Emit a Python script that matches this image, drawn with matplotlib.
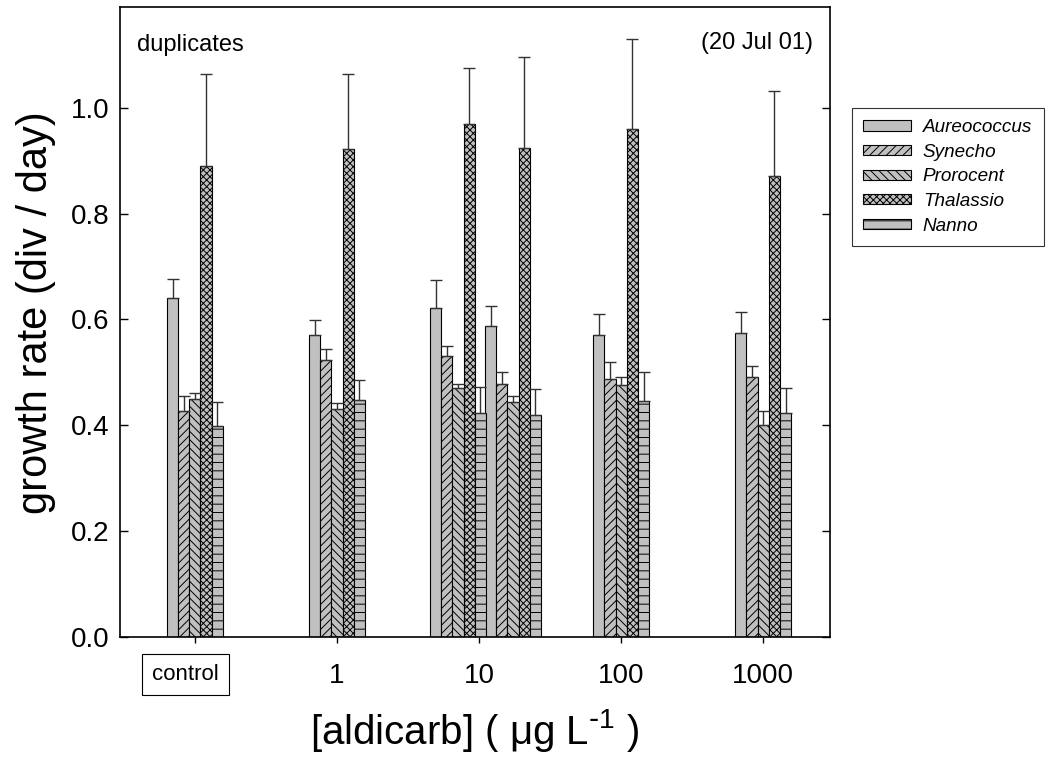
import numpy as np
import matplotlib
matplotlib.use("Agg")
import matplotlib.pyplot as plt

plt.rcParams['font.family'] = ['Liberation Sans', 'DejaVu Sans']
plt.rcParams['mathtext.default'] = 'regular'
plt.rcParams['hatch.linewidth'] = 0.7

# treatment sets: control, 1, 10 (two sets), 100, 1000
group_index = [0, 1, 2, 2, 3, 4]
group_shift = [0.0, 0.0, -0.148, 0.239, 0.0, 0.0]
tick_labels = ['', '1', '10', '100', '1000']

species = ['Aureococcus', 'Synecho', 'Prorocent', 'Thalassio', 'Nanno']
aureo = [0.641, 0.570, 0.621, 0.588, 0.570, 0.575]
aureo_err = [0.035, 0.029, 0.053, 0.037, 0.041, 0.039]
synecho = [0.428, 0.524, 0.531, 0.478, 0.487, 0.491]
synecho_err = [0.027, 0.020, 0.019, 0.022, 0.032, 0.021]
prorocent = [0.449, 0.432, 0.470, 0.445, 0.477, 0.400]
prorocent_err = [0.012, 0.010, 0.009, 0.010, 0.015, 0.027]
thalassio = [0.890, 0.921, 0.969, 0.924, 0.960, 0.870]
thalassio_err = [0.173, 0.142, 0.106, 0.171, 0.170, 0.162]
nanno = [0.399, 0.448, 0.424, 0.419, 0.446, 0.423]
nanno_err = [0.045, 0.038, 0.048, 0.049, 0.054, 0.047]

values = [aureo, synecho, prorocent, thalassio, nanno]
errors = [aureo_err, synecho_err, prorocent_err, thalassio_err, nanno_err]
hatches = [None, '////', '\\\\\\\\', 'xxxxx', '--']

fig = plt.figure(figsize=(10.46, 7.57), dpi=100)
ax = fig.add_axes([0.115, 0.158, 0.6785, 0.8322])

w = 0.0787
centers = np.array(group_index) + np.array(group_shift)
for k in range(5):
    x = centers + (k - 2) * w
    ax.bar(x, values[k], width=w, color='#c0c0c0', edgecolor='black',
           linewidth=0.8, hatch=hatches[k], label=species[k], zorder=2)
    ax.errorbar(x, values[k], yerr=[np.zeros(6), errors[k]], fmt='none',
                ecolor='#333333', elinewidth=1, capsize=4, capthick=1, zorder=3)

ax.set_xlim(-0.525, 4.47)
ax.set_ylim(0, 1.189)
ax.set_xticks(range(5))
ax.set_xticklabels(tick_labels)
ax.set_yticks(np.arange(0, 1.01, 0.2))
ax.set_yticklabels(["%.1f" % v for v in np.arange(0, 1.01, 0.2)])
ax.tick_params(axis='y', direction='in', length=6, width=1, right=True,
               labelsize=20, pad=8)
ax.tick_params(axis='x', direction='out', length=4.3, width=1, top=False,
               labelsize=20, pad=14)
for s in ax.spines.values():
    s.set_linewidth(1.2)

ax.annotate('control', xy=(0, 0), xycoords=('data', 'axes fraction'),
            xytext=(-6.5, -27), textcoords='offset points', ha='center',
            va='center', fontsize=16,
            bbox=dict(boxstyle='square,pad=0.45', fc='white', ec='black', lw=0.8))

ax.set_xlabel(r'[aldicarb] ( μg L$^{\text{-}1}$ )', fontsize=29, va='center')
ax.xaxis.set_label_coords(0.5, -0.147)
ax.set_ylabel('growth rate (div / day)', fontsize=30, va='center')
ax.yaxis.set_label_coords(-0.119, 0.515)

ax.text(0.024, 0.94, 'duplicates', transform=ax.transAxes, fontsize=17,
        ha='left', va='center')
ax.text(0.976, 0.944, '(20 Jul 01)', transform=ax.transAxes, fontsize=17,
        ha='right', va='center')

leg = ax.legend(loc='upper left', bbox_to_anchor=(852 / 1046, 1 - 108 / 757),
                bbox_transform=fig.transFigure, frameon=True, fancybox=False,
                prop=dict(size=13.6, style='italic'), handlelength=2.5,
                handleheight=0.47, handletextpad=0.65, labelspacing=0.4,
                borderpad=0.6, borderaxespad=0)
leg.get_frame().set_edgecolor('black')
leg.get_frame().set_linewidth(0.8)

fig.savefig('out.png', dpi=100)
